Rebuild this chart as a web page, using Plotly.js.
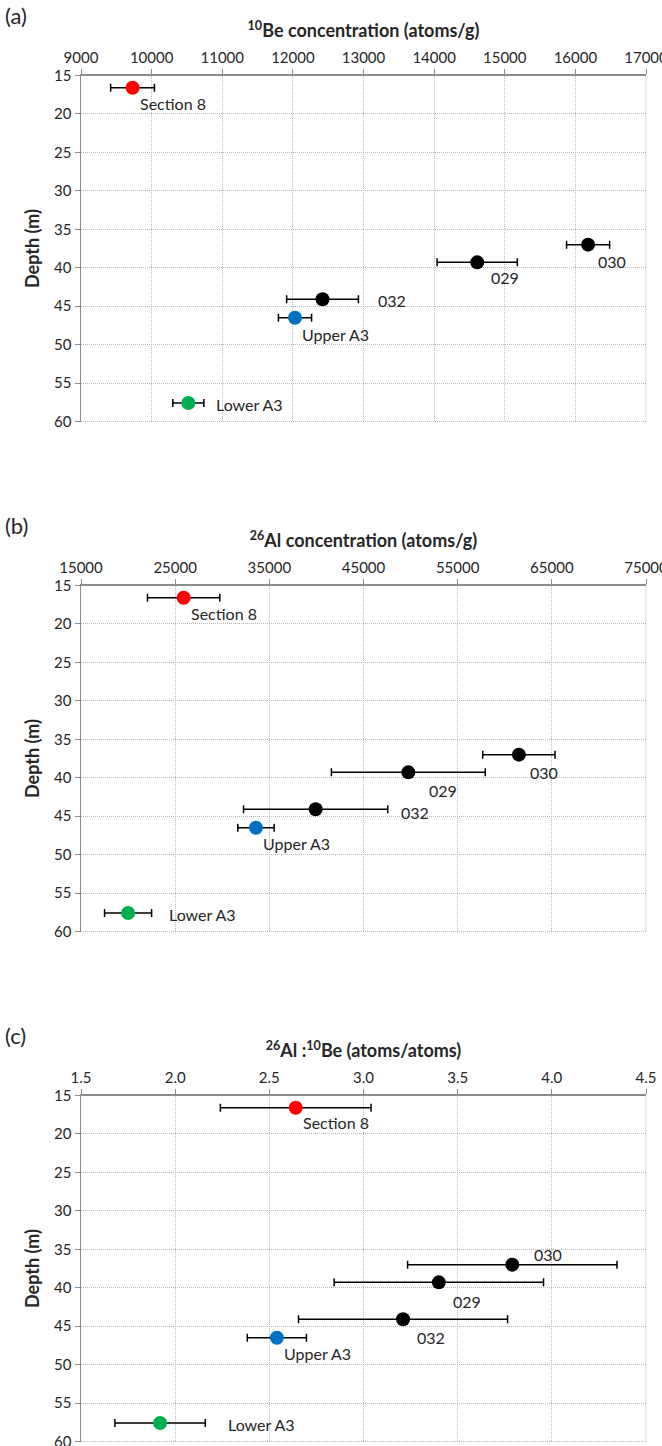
<!DOCTYPE html>
<html>
<head>
<meta charset="utf-8">
<script src="https://cdn.plot.ly/plotly-3.0.1.min.js"></script>
<style>html,body{margin:0;padding:0;background:#fff}</style>
</head>
<body>
<div id="chart" style="width:662px;height:1446px"></div>
<script>
// Cosmogenic nuclide results by sample
const samples  = ['Section 8', '030', '029', '032', 'Upper A3', 'Lower A3'];
const depth    = [16.6, 37.0, 39.3, 44.1, 46.5, 57.6];          // m
const be10     = [9730, 16180, 14610, 12420, 12030, 10520];     // atoms/g
const be10Err  = [310, 305, 568, 508, 235, 220];
const al26     = [25900, 61500, 49760, 39920, 33580, 20000];    // atoms/g
const al26Err  = [3840, 3840, 8170, 7660, 1930, 2500];
const ratio    = [2.64, 3.79, 3.40, 3.21, 2.54, 1.92];          // 26Al/10Be
const ratioErr = [0.40, 0.556, 0.556, 0.555, 0.157, 0.24];
const depthTicks = [15, 20, 25, 30, 35, 40, 45, 50, 55, 60];

const sampleColors = ['#ff0000', '#000000', '#000000', '#000000', '#0070c0', '#00b050'];

const W = 662, H = 1446;
const FONT = 'Lato, "Open Sans", sans-serif';
const TXT = '#262626';
const GRID = '#b8b8b8';
const GRIDDASH = '1px,1px';
const AXIS = '#8c8c8c';
const px = v => v / W;
const py = v => 1 - v / H;

const panels = [
  {tag: '(a)', values: be10, errs: be10Err, range: [9000, 17000], dtick: 1000, fmt: 'd',
   title: '<b><sup>10</sup>Be concentration (atoms/g)</b>',
   // label offsets [dx, dy] in px from each marker
   offs: [[5, 16], [8, 17], [12, 15], [53, 1], [5, 17], [26, 1]]},
  {tag: '(b)', values: al26, errs: al26Err, range: [15000, 75000], dtick: 10000, fmt: 'd',
   title: '<b><sup>26</sup>Al concentration (atoms/g)</b>',
   offs: [[5, 16], [9, 18], [19, 18], [83, 3], [5, 16], [39, 1]]},
  {tag: '(c)', values: ratio, errs: ratioErr, range: [1.5, 4.5], dtick: 0.5, fmt: '.1f',
   title: '<b><sup>26</sup>Al :<sup>10</sup>Be (atoms/atoms)</b>',
   offs: [[5, 15], [20, -10], [12, 19], [12, 18], [5, 16], [66, 1]]}
];

const plotLeft = 81, plotRight = 646, plotH = 346;
const tops = [75.5, 585.5, 1095.5];

const traces = [];
const annotations = [];
const shapes = [];
const layout = {
  width: W, height: H,
  margin: {l: 0, r: 0, t: 0, b: 0},
  paper_bgcolor: '#ffffff', plot_bgcolor: '#ffffff',
  showlegend: false,
  font: {family: FONT, color: TXT},
  annotations: annotations,
  shapes: shapes
};

panels.forEach((p, i) => {
  const n = i === 0 ? '' : String(i + 1);
  const xa = 'x' + n, ya = 'y' + n;

  traces.push({
    type: 'scatter', mode: 'markers',
    x: p.values, y: depth, xaxis: xa, yaxis: ya,
    marker: {size: 14, color: sampleColors},
    error_x: {type: 'data', array: p.errs, visible: true,
              color: '#000000', thickness: 1.5, width: 4},
    hoverinfo: 'skip'
  });

  layout['xaxis' + n] = {
    domain: [px(plotLeft), px(plotRight)], anchor: ya, side: 'top',
    range: p.range, dtick: p.dtick, tick0: p.range[0], tickformat: p.fmt,
    showline: true, linecolor: AXIS, linewidth: 1.5,
    ticks: 'outside', ticklen: 5, tickcolor: AXIS,
    showgrid: true, gridcolor: GRID, griddash: GRIDDASH, gridwidth: 1,
    zeroline: false, fixedrange: true, ticklabeloverflow: 'allow',
    tickfont: {family: FONT, size: 15, color: TXT},
    title: {text: p.title, font: {family: FONT, size: 18, color: TXT}, standoff: 5}
  };
  layout['yaxis' + n] = {
    domain: [py(tops[i] + plotH), py(tops[i])], anchor: xa,
    range: [60, 15], tickvals: depthTicks,
    showline: true, linecolor: AXIS, linewidth: 1.5,
    ticks: 'outside', ticklen: 5, tickcolor: AXIS,
    showgrid: true, gridcolor: GRID, griddash: GRIDDASH, gridwidth: 1,
    zeroline: false, fixedrange: true, ticklabeloverflow: 'allow',
    tickfont: {family: FONT, size: 15, color: TXT},
    title: {text: '<b>Depth (m)</b>', font: {family: FONT, size: 18, color: TXT}, standoff: 10}
  };

  // dotted frame lines on the far (right and bottom) edges of the grid
  shapes.push(
    {type: 'line', xref: xa + ' domain', yref: ya + ' domain', x0: 1, x1: 1, y0: 0, y1: 1,
     line: {color: GRID, width: 1, dash: GRIDDASH}},
    {type: 'line', xref: xa + ' domain', yref: ya + ' domain', x0: 0, x1: 1, y0: 0, y1: 0,
     line: {color: GRID, width: 1, dash: GRIDDASH}}
  );

  annotations.push({
    xref: 'paper', yref: 'paper', x: px(3), y: py(tops[i] - 60),
    xanchor: 'left', yanchor: 'middle', showarrow: false,
    text: p.tag, font: {family: FONT, size: 22, color: TXT}
  });

  samples.forEach((s, k) => {
    annotations.push({
      xref: xa, yref: ya, x: p.values[k], y: depth[k],
      xanchor: 'left', yanchor: 'middle', showarrow: false,
      xshift: p.offs[k][0], yshift: -p.offs[k][1],
      text: s, font: {family: FONT, size: 16, color: TXT}
    });
  });
});

Plotly.newPlot('chart', traces, layout, {staticPlot: true, displayModeBar: false});
</script>
</body>
</html>
